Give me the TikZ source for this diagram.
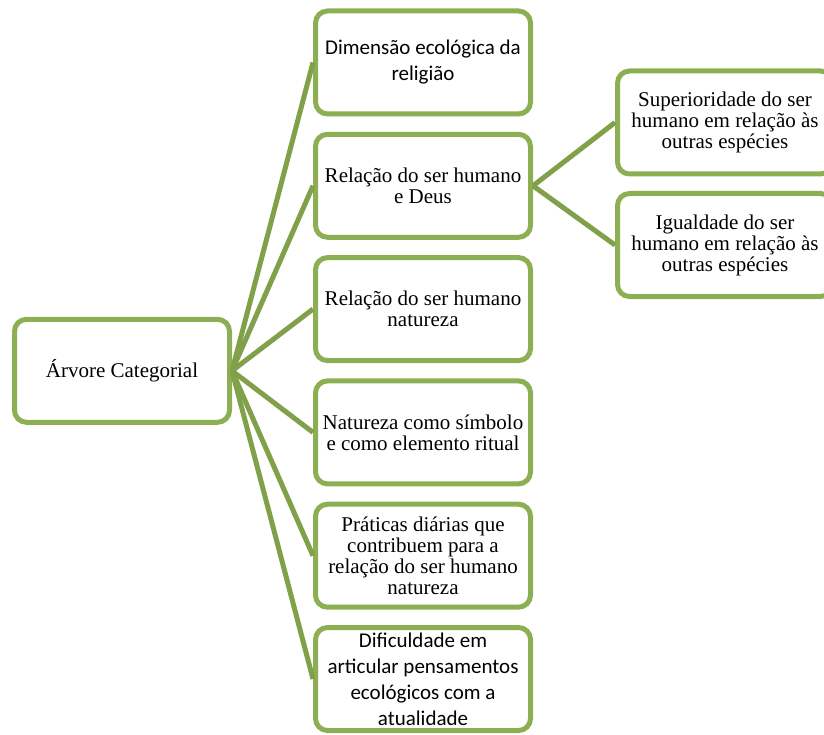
\documentclass[tikz,border=0pt]{standalone}
\usepackage{fontspec}
\setmainfont{Liberation Serif}
\newfontfamily\calibrifont{Carlito}
\usepackage{tikz}
\usetikzlibrary{positioning}
\definecolor{olivebox}{HTML}{8DAF54}
\definecolor{oliveline}{HTML}{80A04A}

\begin{document}
\begin{tikzpicture}[
	%	style def
    x=1pt, y=-1pt,
    cat box/.style={draw=olivebox, line width=5pt, rounded corners=12pt, fill=white,
        minimum width=215pt, minimum height=103pt, inner sep=0pt,
        align=center, font=\fontsize{21}{21}\selectfont},
    calibri box/.style={cat box, font=\calibrifont\fontsize{21}{26}\selectfont},
    branch line/.style={oliveline, line width=5pt}
    ]
    \useasboundingbox (0,0) rectangle (824,735);

	% root of the tree
	\node[cat box] (raiz) at (122,370.8) {Árvore Categorial};

	% first level categories
	\node[calibri box] (dim) at (423,62.5) {Dimensão ecológica da\\religião};
	\node[cat box] (deus) at (423,185.8) {Relação do ser humano\\e Deus};
	\node[cat box] (nat) at (423,309.1) {Relação do ser humano\\natureza};
	\node[cat box] (simb) at (423,432.4) {Natureza como símbolo\\e como elemento ritual};
	\node[cat box] (prat) at (423,555.7) {Práticas diárias que\\contribuem para a\\relação do ser humano\\natureza};
	\node[calibri box] (dif) at (423,679) {Dificuldade em\\articular pensamentos\\ecológicos com a\\atualidade};

	% second level
	\node[cat box] (sup) at (725,122.5) {Superioridade do ser\\humano em relação às\\outras espécies};
	\node[cat box] (igu) at (725,245) {Igualdade do ser\\humano em relação às\\outras espécies};

	% connecting the boxes
	\foreach \n in {dim,deus,nat,simb,prat,dif}
		\draw[branch line] (raiz.east) -- (\n.west);
	\draw[branch line] (deus.east) -- (sup.west);
	\draw[branch line] (deus.east) -- (igu.west);
\end{tikzpicture}
\end{document}
